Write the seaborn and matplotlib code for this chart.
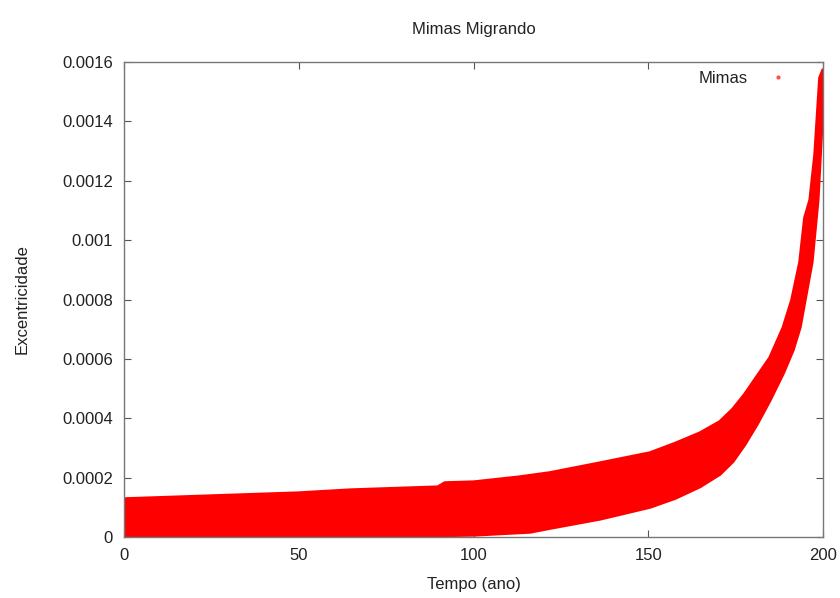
import matplotlib
matplotlib.use("Agg")
import matplotlib.pyplot as plt
from matplotlib.lines import Line2D
import pandas as pd
import seaborn as sns

# Envelope of Mimas' eccentricity over time (years): the fast oscillation
# fills the band between the lower and upper curves.
tempo_sup = [0, 50.1, 64.7, 89.8, 91.8, 100.1, 113.3, 121.9, 136.2, 150.5,
             157.7, 164.8, 170.5, 174.2, 177.6, 181.1, 184.8, 188.6, 191.1,
             193.4, 194.8, 196.3, 197.7, 199.1, 200]
exc_sup = [1.28e-4, 1.48e-4, 1.58e-4, 1.68e-4, 1.82e-4, 1.85e-4, 2.02e-4,
           2.16e-4, 2.49e-4, 2.83e-4, 3.15e-4, 3.50e-4, 3.88e-4, 4.30e-4,
           4.80e-4, 5.40e-4, 6.03e-4, 7.04e-4, 7.98e-4, 9.26e-4, 1.075e-3,
           1.135e-3, 1.287e-3, 1.546e-3, 1.573e-3]

tempo_inf = [0, 50.4, 79, 100.1, 116.2, 121.9, 136.2, 150.5, 157.7, 164.8,
             170.5, 174.2, 177.6, 181.1, 184.8, 188.6, 191.4, 193.4, 196.8,
             198.5, 199.7, 200]
exc_inf = [0.3e-5, 0.2e-5, 0.3e-5, 0.7e-5, 1.7e-5, 3.0e-5, 6.1e-5, 1.01e-4,
           1.31e-4, 1.70e-4, 2.12e-4, 2.55e-4, 3.12e-4, 3.80e-4, 4.61e-4,
           5.52e-4, 6.30e-4, 7.07e-4, 9.26e-4, 1.135e-3, 1.405e-3, 1.556e-3]

x_ticks = [0, 50, 100, 150, 200]
y_ticks = [0, 0.0002, 0.0004, 0.0006, 0.0008, 0.001, 0.0012, 0.0014, 0.0016]
y_tick_labels = ["0", "0.0002", "0.0004", "0.0006", "0.0008", "0.001",
                 "0.0012", "0.0014", "0.0016"]

sns.set_theme(style="white")
plt.rcParams["font.family"] = ["Liberation Sans", "DejaVu Sans"]

fig = plt.figure(figsize=(8.4, 5.98), dpi=100)
ax = fig.add_axes([0.1476, 0.102, 0.8322, 0.7943])

sup = pd.DataFrame({"tempo": tempo_sup, "exc": exc_sup})
inf = pd.DataFrame({"tempo": tempo_inf, "exc": exc_inf})

vermelho = "#ff0000"
# band as a closed polygon: upper edge forward, lower edge backward
ax.fill(tempo_sup + tempo_inf[::-1], exc_sup + exc_inf[::-1],
        color=vermelho, linewidth=0)
sns.lineplot(data=sup, x="tempo", y="exc", color=vermelho, lw=2.5, ax=ax,
             sort=False)
sns.lineplot(data=inf, x="tempo", y="exc", color=vermelho, lw=2.5, ax=ax,
             sort=False)

ax.set_xlim(0, 200)
ax.set_ylim(0, 0.0016)
ax.set_xticks(x_ticks)
ax.set_xticklabels([str(t) for t in x_ticks])
ax.set_yticks(y_ticks)
ax.set_yticklabels(y_tick_labels)
ax.tick_params(direction="in", length=5, width=0.8, color="#555555",
               top=True, right=True, bottom=True, left=True,
               labelsize=12, labelcolor="#222222", pad=8)
for s in ax.spines.values():
    s.set_color("#777777")
    s.set_linewidth(1.0)

ax.set_title("Mimas Migrando", fontsize=12, color="#222222", pad=20)
ax.set_xlabel("Tempo (ano)", fontsize=12, color="#222222", labelpad=10)
ax.set_ylabel("Excentricidade", fontsize=12, color="#222222", labelpad=23)

marcador = Line2D([], [], linestyle="none", marker="o", markersize=3,
                  color=vermelho, alpha=0.7, markeredgewidth=0)
ax.legend([marcador], ["Mimas"], loc="upper right", frameon=False,
          markerfirst=False, fontsize=12, handletextpad=0.8,
          bbox_to_anchor=(0.981, 1.012), labelcolor="#222222")

fig.savefig("out.png", dpi=100, facecolor="white")
